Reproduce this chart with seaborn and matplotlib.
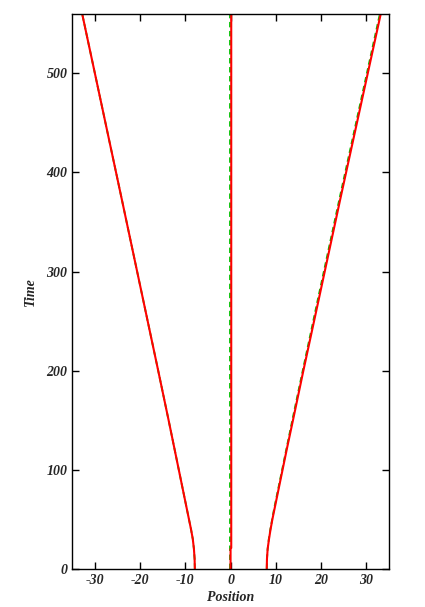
import pandas as pd
import matplotlib.pyplot as plt
import seaborn as sns

# values (time vs position of the three fronts)
t_side = [0, 10, 20, 30, 40, 50, 60, 70, 80, 90, 100, 120, 150, 200, 272, 373, 560]
left_red = [-7.9, -7.95, -8.1, -8.35, -8.75, -9.2, -9.65, -10.1, -10.55, -11.0,
            -11.45, -12.35, -13.7, -16.0, -19.35, -24.05, -32.8]
right_red = [8.0, 8.05, 8.2, 8.5, 8.85, 9.25, 9.7, 10.15, 10.6, 11.05,
             11.5, 12.4, 13.8, 16.1, 19.5, 24.25, 33.2]
left_green = [-7.9, -7.95, -8.1, -8.35, -8.75, -9.2, -9.65, -10.1, -10.55, -11.0,
              -11.45, -12.35, -13.7, -16.0, -19.35, -24.05, -32.8]
right_green = [8.0, 8.05, 8.2, 8.45, 8.8, 9.2, 9.6, 10.05, 10.5, 10.95,
               11.4, 12.3, 13.65, 15.95, 19.3, 24.05, 33.0]

t_mid = [0, 20, 21, 560]
mid_red = [0.0, 0.0, 0.15, 0.15]
mid_green = [-0.05, -0.05, -0.05, -0.05]

sns.set_style("ticks")
plt.rcParams['font.family'] = ['Liberation Serif', 'DejaVu Serif']
plt.rcParams['axes.unicode_minus'] = False

fig, ax = plt.subplots(figsize=(4.25, 6.07), dpi=100)
fig.subplots_adjust(left=0.17, right=0.915, top=0.977, bottom=0.063)

green_sets = [(left_green, t_side), (right_green, t_side), (mid_green, t_mid)]
red_sets = [(left_red, t_side), (right_red, t_side), (mid_red, t_mid)]

for xs, ts in green_sets:
    df = pd.DataFrame({'Position': xs, 'Time': ts})
    sns.lineplot(data=df, x='Position', y='Time', sort=False, estimator=None,
                 color='#00c000', linestyle=(0, (3, 2)), linewidth=1.3, ax=ax)
for xs, ts in red_sets:
    df = pd.DataFrame({'Position': xs, 'Time': ts})
    sns.lineplot(data=df, x='Position', y='Time', sort=False, estimator=None,
                 color='red', linewidth=1.5, ax=ax)

ax.set_xlim(-35, 35)
ax.set_ylim(0, 560)
ax.set_xticks([-30, -20, -10, 0, 10, 20, 30])
ax.set_yticks([0, 100, 200, 300, 400, 500])
ax.tick_params(direction='in', top=True, right=True, length=5, width=1, color='black')
for lab in ax.get_xticklabels() + ax.get_yticklabels():
    lab.set_fontweight('bold')
    lab.set_fontstyle('italic')
    lab.set_fontsize(10)
for s in ax.spines.values():
    s.set_visible(True)
    s.set_color('black')
    s.set_linewidth(1.0)

ax.set_xlabel('Position', fontsize=10, fontweight='bold', fontstyle='italic', labelpad=3)
ax.set_ylabel('Time', fontsize=10, fontweight='bold', fontstyle='italic', labelpad=7)

fig.savefig('out.png', dpi=100)
